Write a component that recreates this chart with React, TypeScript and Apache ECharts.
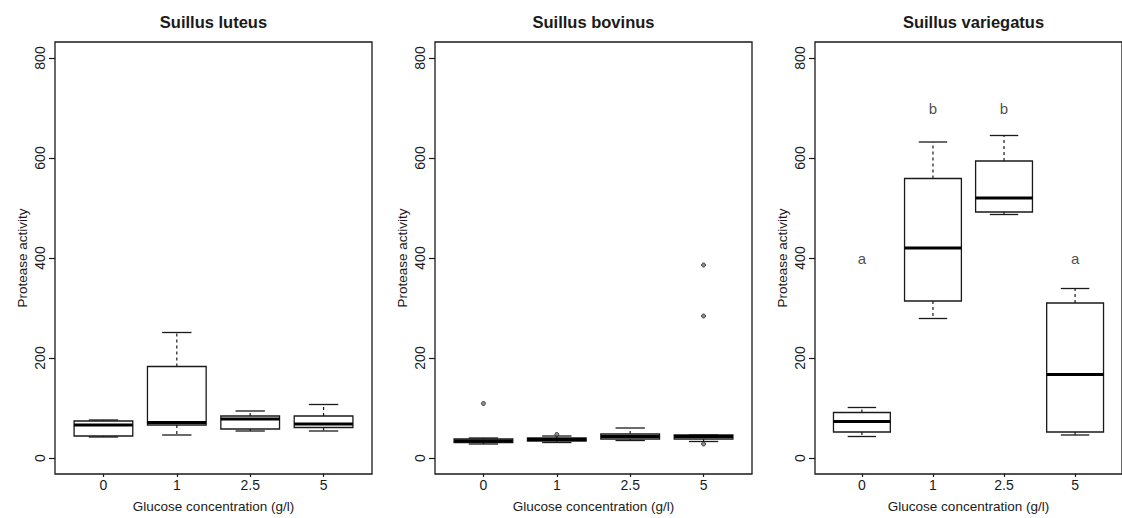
import React, { useEffect, useRef } from "react";
import * as echarts from "echarts";

const categories = ["0", "1", "2.5", "5"];
const panelTitles = ["Suillus luteus", "Suillus bovinus", "Suillus variegatus"];
const yTicks = [0, 200, 400, 600, 800];

// [whisker low, Q1, median, Q3, whisker high]
const luteusStats = [
  [42, 44, 66, 74, 76],
  [46, 66, 71, 183, 251],
  [54, 58, 78, 84, 94],
  [54, 61, 68, 84, 107],
];
const bovinusStats = [
  [28, 31, 34, 38, 40],
  [31, 34, 37, 40, 44],
  [35, 38, 43, 48, 60],
  [33, 38, 43, 46, 46],
];
const variegatusStats = [
  [43, 52, 73, 91, 101],
  [279, 314, 420, 559, 632],
  [487, 492, 520, 594, 645],
  [46, 52, 167, 310, 339],
];
// outliers: [group index (1-based), value]
const luteusOutliers: number[][] = [];
const bovinusOutliers = [
  [1, 109],
  [2, 47],
  [4, 386],
  [4, 284],
  [4, 28],
];
const variegatusOutliers: number[][] = [];

const variegatusLetters = ["a", "b", "b", "a"];
const variegatusLetterY = [400, 700, 700, 400];

const FONT = "Liberation Sans, Arial, Helvetica, sans-serif";
const INK = "#1a1a1a";
const gridLefts = [55, 435, 815];
const GRID_TOP = 42;
const GRID_W = 317;
const GRID_H = 435;

function boxRender(params: any, api: any) {
  const x = api.value(0);
  const lo = api.value(1);
  const q1 = api.value(2);
  const med = api.value(3);
  const q3 = api.value(4);
  const hi = api.value(5);
  const w = api.size([0.8, 0])[0];
  const pLo = api.coord([x, lo]);
  const pQ1 = api.coord([x, q1]);
  const pMed = api.coord([x, med]);
  const pQ3 = api.coord([x, q3]);
  const pHi = api.coord([x, hi]);
  const cx = pMed[0];
  const half = w / 2;
  const cap = w / 4;
  const stroke = { stroke: INK, lineWidth: 1.3 };
  return {
    type: "group",
    children: [
      {
        type: "line",
        shape: { x1: cx, y1: pQ3[1], x2: cx, y2: pHi[1] },
        style: { stroke: INK, lineWidth: 1.2, lineDash: [3, 3] },
      },
      {
        type: "line",
        shape: { x1: cx, y1: pQ1[1], x2: cx, y2: pLo[1] },
        style: { stroke: INK, lineWidth: 1.2, lineDash: [3, 3] },
      },
      {
        type: "line",
        shape: { x1: cx - cap, y1: pHi[1], x2: cx + cap, y2: pHi[1] },
        style: stroke,
      },
      {
        type: "line",
        shape: { x1: cx - cap, y1: pLo[1], x2: cx + cap, y2: pLo[1] },
        style: stroke,
      },
      {
        type: "rect",
        shape: { x: cx - half, y: pQ3[1], width: w, height: pQ1[1] - pQ3[1] },
        style: { fill: "#fff", stroke: INK, lineWidth: 1.3 },
      },
      {
        type: "line",
        shape: { x1: cx - half, y1: pMed[1], x2: cx + half, y2: pMed[1] },
        style: { stroke: "#000", lineWidth: 3 },
      },
    ],
  };
}

export default function App() {
  const ref = useRef<HTMLDivElement>(null);
  useEffect(() => {
    document.body.style.margin = "0";
    document.body.style.overflow = "hidden";
    if (!ref.current) return;
    const chart = echarts.init(ref.current, undefined, { renderer: "svg" });
    const allStats = [luteusStats, bovinusStats, variegatusStats];
    const allOutliers = [luteusOutliers, bovinusOutliers, variegatusOutliers];

    const grid = gridLefts.map((left) => ({
      left,
      top: GRID_TOP,
      width: GRID_W,
      height: GRID_H,
      show: true,
      borderColor: INK,
      borderWidth: 1.3,
      backgroundColor: "transparent",
      containLabel: false,
    }));
    const xAxis = gridLefts.map((_, i) => ({
      type: "value",
      gridIndex: i,
      min: 0.34,
      max: 4.66,
      splitLine: { show: false },
      axisLine: { show: false, onZero: false },
      axisTick: {
        show: true,
        customValues: [1, 2, 3, 4],
        length: 3,
        lineStyle: { color: INK, width: 1.2 },
      },
      axisLabel: {
        customValues: [1, 2, 3, 4],
        formatter: (v: number) => categories[Math.round(v) - 1] ?? "",
        fontSize: 14,
        fontFamily: FONT,
        color: INK,
        margin: 4,
      },
      name: "Glucose concentration (g/l)",
      nameLocation: "middle",
      nameGap: 25,
      nameTextStyle: { fontSize: 13.5, fontFamily: FONT, color: INK },
    }));
    const yAxis = gridLefts.map((_, i) => ({
      type: "value",
      gridIndex: i,
      min: -32,
      max: 832,
      splitLine: { show: false },
      axisLine: { show: false, onZero: false },
      axisTick: {
        show: true,
        customValues: yTicks,
        length: 6,
        lineStyle: { color: INK, width: 1.2 },
      },
      axisLabel: {
        customValues: yTicks,
        rotate: 90,
        fontSize: 14,
        fontFamily: FONT,
        color: INK,
        margin: 8,
      },
      name: "Protease activity",
      nameLocation: "middle",
      nameGap: 26,
      nameTextStyle: { fontSize: 13.5, fontFamily: FONT, color: INK },
    }));

    const series: any[] = [];
    allStats.forEach((stats, i) => {
      series.push({
        type: "custom",
        xAxisIndex: i,
        yAxisIndex: i,
        renderItem: boxRender,
        encode: { x: 0, y: [1, 2, 3, 4, 5] },
        data: stats.map((s, k) => [k + 1, ...s]),
      });
      series.push({
        type: "scatter",
        xAxisIndex: i,
        yAxisIndex: i,
        symbol: "circle",
        symbolSize: 4,
        itemStyle: { color: "#777", borderColor: INK, borderWidth: 1 },
        data: allOutliers[i],
      });
    });
    series.push({
      type: "scatter",
      xAxisIndex: 2,
      yAxisIndex: 2,
      symbolSize: 0,
      label: {
        show: true,
        position: "inside",
        formatter: (p: any) => variegatusLetters[p.dataIndex],
        fontSize: 15,
        fontFamily: FONT,
        color: INK,
        textBorderWidth: 0,
      },
      data: variegatusLetterY.map((v, k) => [k + 1, v]),
    });

    chart.setOption({
      animation: false,
      backgroundColor: "#fff",
      grid,
      xAxis,
      yAxis,
      series,
      graphic: panelTitles.map((t, i) => ({
        type: "text",
        x: gridLefts[i] + GRID_W / 2,
        y: 22,
        style: {
          text: t,
          font: `bold 16.5px ${FONT}`,
          fill: INK,
          textAlign: "center",
          textVerticalAlign: "middle",
        },
      })),
    });
    return () => chart.dispose();
  }, []);
  return <div ref={ref} style={{ width: 1122, height: 518 }} />;
}
